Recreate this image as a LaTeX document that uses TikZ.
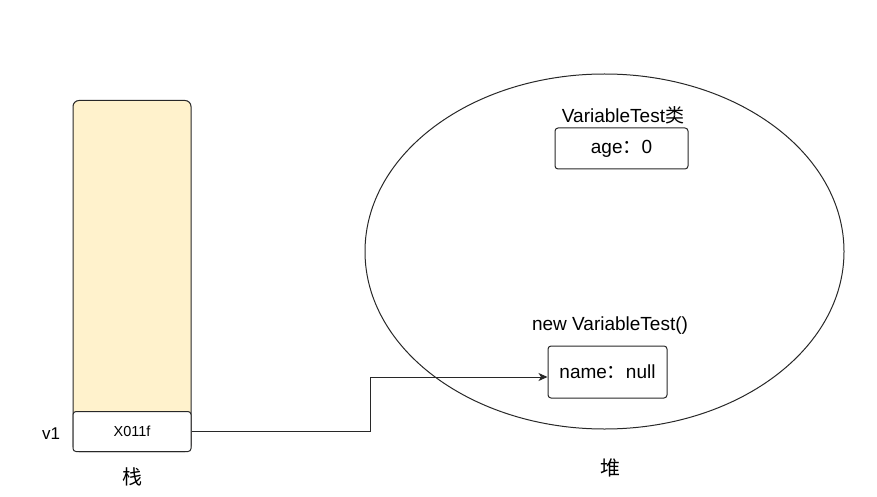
\documentclass[tikz,border=0pt]{standalone}
\usepackage{fontspec}
\setmainfont{Liberation Sans}
\newfontfamily\cjk{Noto Sans CJK SC}
\usetikzlibrary{arrows.meta, positioning, shapes.geometric}
\definecolor{stackfill}{RGB}{255,242,204}
\definecolor{linegray}{RGB}{40,40,40}
\tikzset{>={Stealth[length=9pt,width=8pt,inset=2.5pt]}}

\begin{document}
\begin{tikzpicture}[x=1pt, y=-1pt, line width=1pt,
    box/.style={draw=linegray, rounded corners=3pt, fill=white, inner sep=0pt},
    lbl/.style={font=\fontsize{19}{22}\selectfont, inner sep=0pt},
    small/.style={font=\fontsize{14.5}{17}\selectfont, inner sep=0pt}]
  \useasboundingbox (0,0) rectangle (877,497);
  % stack
  \node[box, fill=stackfill, rounded corners=6pt, minimum width=118pt, minimum height=351pt] (stack) at (132,276) {};
  \node[box, small, minimum width=118pt, minimum height=40pt, anchor=south] (cell) at (stack.south) {X011f};
  \node[lbl, font=\fontsize{17}{20}\selectfont] (v1) at (51,433.5) {v1};
  \node[lbl, font=\fontsize{20}{24}\cjk] (stacklbl) at (132,477) {栈};
  % heap
  \node[draw=linegray, ellipse, inner sep=0pt, minimum width=479pt, minimum height=355pt] (heap) at (604.5,251.5) {};
  \node[lbl, font=\fontsize{20}{24}\cjk] (heaplbl) at (610,468) {堆};
  \node[lbl] (classlbl) at (623,115) {VariableTest{\cjk 类}};
  \node[box, minimum width=133pt, minimum height=41pt] (agebox) at (621.5,148.5) {\fontsize{19}{22}\selectfont age{\cjk ：}0};
  \node[lbl] (objlbl) at (610,326) {new VariableTest()};
  \node[box, minimum width=119pt, minimum height=52pt] (namebox) at (607.5,372) {\fontsize{19}{22}\selectfont name{\cjk ：}null};
  % reference
  \coordinate (bend) at (370,377);
  \draw[->, linegray] (cell.east) -| (bend) -- (bend -| namebox.west);
\end{tikzpicture}
\end{document}
